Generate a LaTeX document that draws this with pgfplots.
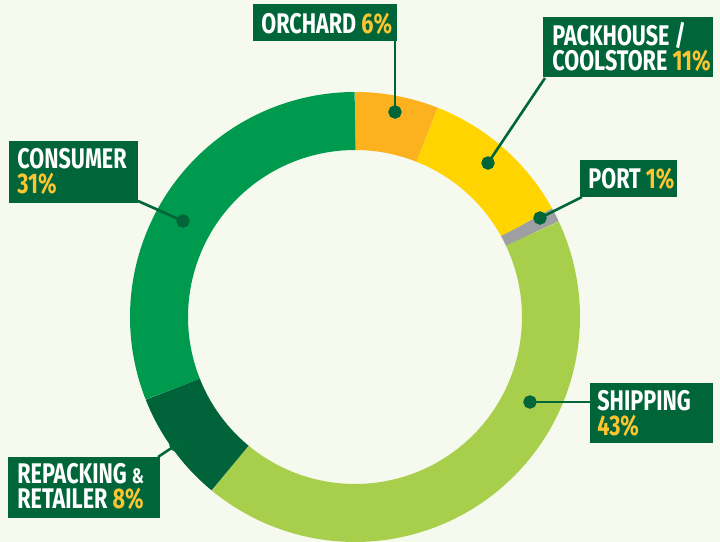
\documentclass[border=0pt]{standalone}
\usepackage{pgfplots}
\pgfplotsset{compat=1.18}
\usepackage{fontspec}
\newfontfamily\lab[FakeStretch=0.76]{Fira Sans}
\definecolor{bg}{HTML}{F6F9EE}
\definecolor{cOrchard}{HTML}{FBB21E}
\definecolor{cPack}{HTML}{FFD400}
\definecolor{cPort}{HTML}{9D9FA2}
\definecolor{cShip}{HTML}{A8CF4B}
\definecolor{cRepack}{HTML}{00633A}
\definecolor{cCons}{HTML}{009A4E}
\definecolor{boxg}{HTML}{00663A}
\definecolor{pcty}{HTML}{FDC530}
\newcommand{\seg}[3]{%
  \pgfmathsetmacro{\segA}{90-3.6*(#2+#3)}%
  \pgfmathsetmacro{\segB}{90-3.6*#2}%
  \addplot[draw=#1, line width=29pt, domain=\segA:\segB, samples=90, no markers]
    ({355+196*cos(x)},{317-196*sin(x)});}
\begin{document}
\begin{tikzpicture}
\begin{axis}[
  at={(0,0)}, anchor=south west,
  x=0.5pt, y=0.5pt, y dir=reverse,
  xmin=0, xmax=720, ymin=0, ymax=542,
  hide axis, clip=false,
]
\fill[bg] (axis cs:0,0) rectangle (axis cs:720,542);
% donut: clockwise from top, percentages
\seg{cOrchard}{0}{6}
\seg{cPack}{6}{11}
\seg{cPort}{17}{1}
\seg{cShip}{18}{43}
\seg{cRepack}{61}{8}
\seg{cCons}{69}{31}
% leader lines
\pgfplotsset{leader/.style={draw=boxg, line width=1.3pt, mark=*, mark size=2.7pt, mark indices={2}, mark options={fill=boxg, draw=boxg, solid}}}
\addplot[leader] coordinates {(395,41) (395,112)};
\addplot[leader] coordinates {(545,78) (488,163)};
\addplot[leader] coordinates {(582,197) (540,218)};
\addplot[leader] coordinates {(138,201) (183,221)};
\addplot[leader] coordinates {(590,402) (530,402)};
\addplot[leader] coordinates {(158,457) (176,445)};
% label boxes
\fill[boxg] (axis cs:253,4) rectangle (axis cs:397,41);
\fill[boxg] (axis cs:543,17) rectangle (axis cs:713,77);
\fill[boxg] (axis cs:580,160) rectangle (axis cs:677,197);
\fill[boxg] (axis cs:9,141) rectangle (axis cs:138,203);
\fill[boxg] (axis cs:590,383) rectangle (axis cs:713,443);
\fill[boxg] (axis cs:8,457) rectangle (axis cs:160,518);
\tikzset{lbl/.style={anchor=base west, inner sep=0pt, text=white, align=left,
  font=\lab\bfseries\fontsize{14.2}{12.2}\selectfont}}
\node[lbl] at (axis cs:261,33) {ORCHARD \textcolor{pcty}{6\%}};
\node[lbl] at (axis cs:552,70) {PACKHOUSE /\\COOLSTORE \textcolor{pcty}{11\%}};
\node[lbl] at (axis cs:588,188) {PORT \textcolor{pcty}{1\%}};
\node[lbl] at (axis cs:17,193) {CONSUMER\\\textcolor{pcty}{31\%}};
\node[lbl] at (axis cs:597,435) {SHIPPING\\\textcolor{pcty}{43\%}};
\node[lbl] at (axis cs:17,508) {REPACKING {\fontsize{10.5}{11}\selectfont\&}\\RETAILER \textcolor{pcty}{8\%}};
\end{axis}
\pgfresetboundingbox
\path (0,0) rectangle (360pt,271pt);
\end{tikzpicture}
\end{document}
